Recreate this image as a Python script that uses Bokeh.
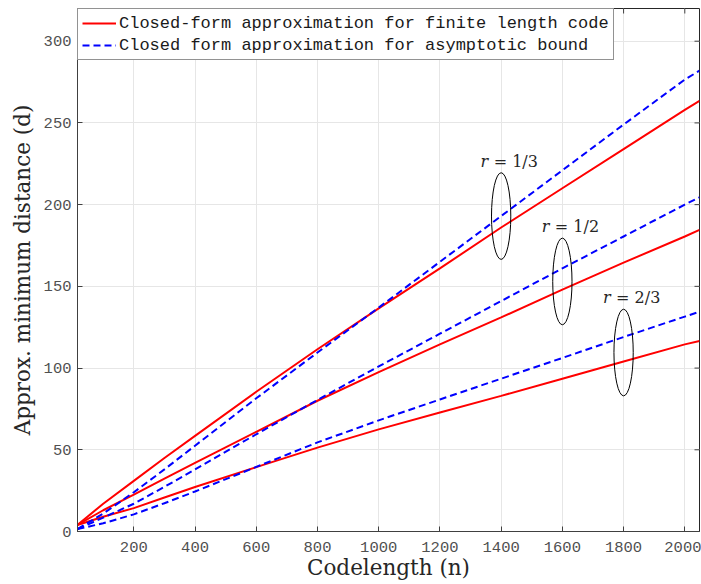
import math
from bokeh.plotting import figure
from bokeh.models import FixedTicker, Range1d, Legend, LegendItem
from bokeh.core.properties import value
from bokeh.embed import file_html
from bokeh.resources import INLINE

# ---------------- data ----------------
n = [16, 100, 200, 300, 400, 600, 800, 1000, 1200, 1400, 1600, 1800, 2000, 2048]
fin_r13 = [4, 17, 31, 45, 58.5, 85.5, 111.5, 136.5, 161, 186, 210, 234, 258, 263.5]
asy_r13 = [1.5, 11, 24, 38, 52.5, 81.5, 109.5, 137, 165, 193, 221, 249, 276.5, 282]
fin_r12 = [4, 13, 22.5, 32.3, 42, 61, 80, 97.5, 114.5, 131, 148, 164.5, 180.5, 184.5]
asy_r12 = [1.5, 8.5, 17, 27.3, 38, 59.5, 80.5, 101, 121, 141, 161, 180.5, 200, 204.5]
fin_r23 = [4, 9, 14.3, 20.8, 27.2, 39.4, 51.3, 62.5, 72.8, 83, 93.5, 104, 114.5, 116.5]
asy_r23 = [1.5, 5, 10.5, 17.3, 24.5, 39.5, 54.5, 68, 80.8, 93.5, 106.2, 119, 131.5, 134.5]

x_min, x_max = 16, 2048
y_min, y_max = 0, 320

ell_n = [1400, 1600, 1800]
ell_d = [193, 153, 109.5]
rate_text = ["= 1/3", "= 1/2", "= 2/3"]

x_ticks = [200, 400, 600, 800, 1000, 1200, 1400, 1600, 1800, 2000]
y_ticks = [0, 50, 100, 150, 200, 250, 300]

legend_labels = ["Closed-form approximation for finite length code",
                 "Closed form approximation for asymptotic bound"]

# ---------------- figure ----------------
AX = "#262626"
TICK_LINE = "#404040"
TICK_COL = "#505050"
MONO = "Liberation Mono"
SERIF = "DejaVu Serif"

p = figure(width=701, height=584, output_backend="svg", toolbar_location=None,
           x_range=Range1d(x_min, x_max), y_range=Range1d(y_min, y_max),
           min_border_left=77, min_border_right=2, min_border_top=8,
           min_border_bottom=53)
p.background_fill_color = "white"
p.border_fill_color = "white"
p.outline_line_color = AX
p.outline_line_width = 1

for ax, ticks in ((p.xaxis[0], x_ticks), (p.yaxis[0], y_ticks)):
    ax.ticker = FixedTicker(ticks=ticks)
    ax.major_tick_in = 5
    ax.major_tick_out = 0
    ax.minor_tick_in = 0
    ax.minor_tick_out = 0
    ax.axis_line_color = TICK_LINE
    ax.major_tick_line_color = TICK_LINE
    ax.major_label_text_font = MONO
    ax.major_label_text_font_size = "15.5px"
    ax.major_label_text_color = TICK_COL
    ax.axis_label_text_font = SERIF
    ax.axis_label_text_font_size = "21.5px"
    ax.axis_label_text_font_style = "normal"
    ax.axis_label_text_color = AX

p.xaxis[0].axis_label = "Codelength (n)"
p.yaxis[0].axis_label = "Approx. minimum distance (d)"
p.xaxis[0].major_label_standoff = 10
p.xaxis[0].axis_label_standoff = 0
p.yaxis[0].major_label_standoff = 6
p.yaxis[0].axis_label_standoff = 6

p.xgrid.ticker = FixedTicker(ticks=x_ticks)
p.ygrid.ticker = FixedTicker(ticks=y_ticks)
p.xgrid.grid_line_color = "#e6e6e6"
p.ygrid.grid_line_color = "#e6e6e6"

# box-style inward ticks on the top and right edges (clipped half-dashes)
p.scatter(x=x_ticks, y=[y_max] * len(x_ticks), marker="dash", size=10,
          angle=math.pi / 2, line_color=TICK_LINE, line_width=1)
p.scatter(x=[x_max] * len(y_ticks), y=y_ticks, marker="dash", size=10,
          line_color=TICK_LINE, line_width=1)

# ---------------- curves ----------------
red_kw = dict(line_color="#ff0000", line_width=2)
blue_kw = dict(line_color="#0000ff", line_width=2, line_dash="7 4")

r1 = p.line(n, fin_r13, **red_kw)
p.line(n, fin_r12, **red_kw)
p.line(n, fin_r23, **red_kw)
b1 = p.line(n, asy_r13, **blue_kw)
p.line(n, asy_r12, **blue_kw)
p.line(n, asy_r23, **blue_kw)

# ---------------- annotations ----------------
p.ellipse(x=ell_n, y=ell_d, width=63, height=53, fill_color=None,
          line_color="black", line_width=1)
p.text(x=ell_n, y=ell_d, text=["r"] * len(ell_n), text_align="right",
       text_baseline="alphabetic", x_offset=-13, y_offset=-55,
       text_font=value(SERIF), text_font_style="italic",
       text_font_size=value("16px"), text_color=AX)
p.text(x=ell_n, y=ell_d, text=rate_text, text_align="left",
       text_baseline="alphabetic", x_offset=-7.5, y_offset=-55,
       text_font=value(SERIF), text_font_size=value("16px"), text_color=AX)

# ---------------- legend ----------------
legend = Legend(items=[LegendItem(label=legend_labels[0], renderers=[r1]),
                       LegendItem(label=legend_labels[1], renderers=[b1])],
                location="top_left", margin=0, padding=4, spacing=2,
                glyph_width=34, glyph_height=20, label_height=20,
                label_standoff=3, label_text_font=MONO,
                label_text_font_size="17px", label_text_color="#1a1a1a",
                border_line_color=AX, border_line_width=1,
                background_fill_color="white", background_fill_alpha=1)
p.add_layout(legend, "center")

open("out.html", "w").write(file_html(p, INLINE))
